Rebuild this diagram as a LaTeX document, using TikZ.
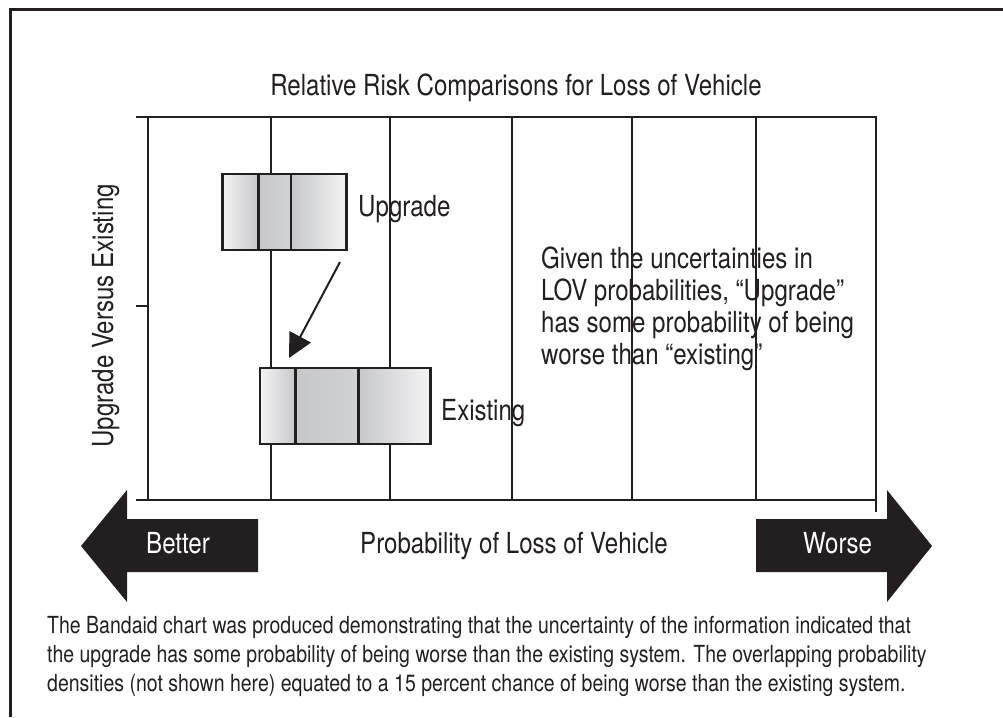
\documentclass[tikz,border=0pt]{standalone}
\usepackage{fontspec}
\setmainfont{TeX Gyre Heros}[FakeStretch=0.83]
\usepackage{tikz}
\usetikzlibrary{arrows.meta}
\definecolor{inkblack}{HTML}{231F20}
\definecolor{bandlight}{HTML}{F4F4F5}
\definecolor{bandmid}{HTML}{C6C7C9}
\definecolor{banddark}{HTML}{A0A2A4}
\tikzset{
  >=Triangle,
  frame line/.style={
    draw=inkblack,
    line width=3pt
  },
  axis line/.style={
    draw=inkblack,
    line width=2.5pt
  },
  grid line/.style={
    draw=inkblack,
    line width=1.3pt
  },
  band/.style={
    rectangle,
    draw=inkblack,
    line width=2.5pt,
    minimum height=76pt,
    inner sep=0pt
  },
  band rise/.style={band,left color=bandlight,right color=bandmid},
  band core/.style={band,left color=bandmid,middle color=banddark,right color=bandmid!80},
  band fall/.style={band,left color=bandmid,right color=bandlight},
  label text/.style={
    font=\fontsize{29}{32}\selectfont,
    text=inkblack,
    inner sep=0pt
  },
  note text/.style={
    font=\fontsize{23.5}{29}\selectfont,
    text=inkblack,
    align=left,
    inner sep=0pt
  },
  shift arrow/.style={
    draw=inkblack,
    line width=2pt,
    -{Triangle[length=24pt,width=24pt]}
  },
  direction arrow/.style={
    fill=inkblack
  }
}
\newcommand{\drawgridlines}[1]{%
  \foreach \gx in {#1}{
    \draw[grid line] (\gx,117) -- (\gx,500);
  }
}

\begin{document}
\begin{tikzpicture}[x=1pt,y=-1pt]
  \useasboundingbox (0,0) rectangle (1003,717);
  \draw[frame line] (10,717) -- (10,10) -- (1003,10);

  \drawgridlines{271,390,512,632,756}
  \draw[axis line] (136,117) -- (876,117) -- (876,512);
  \draw[axis line] (148,117) -- (148,500);
  \draw[axis line] (136,500) -- (876,500);
  \draw[axis line] (136,306) -- (148,306);

  \node[label text,anchor=base] (title) at (516,95)
    {Relative Risk Comparisons for Loss of Vehicle};
  \node[label text,anchor=base,rotate=90] (ylabel) at (113,316)
    {Upgrade Versus Existing};

  % upgrade band
  \node[band rise,minimum width=35.6pt] (U-1) at (240.5,212) {};
  \node[band core,minimum width=32.7pt] (U-2) at (274.6,212) {};
  \node[band fall,minimum width=55.7pt] (U-3) at (318.8,212) {};
  \node[label text,anchor=base west] (upgrade) at (358,216) {Upgrade};

  % existing band
  \node[band rise,minimum width=35.7pt] (E-1) at (277.8,406) {};
  \node[band core,minimum width=62.6pt] (E-2) at (327.0,406) {};
  \node[band fall,minimum width=72.4pt] (E-3) at (394.5,406) {};
  \node[label text,anchor=base west] (existing) at (441,420) {Existing};

  \coordinate (shift start) at (340,262);
  \coordinate (shift end) at (289,358);
  \draw[shift arrow] (shift start) -- (shift end);

  \node[label text,anchor=north west,align=left] (note) at (541,247)
    {Given the uncertainties in\\LOV probabilities, “Upgrade”\\has some probability of being\\worse than “existing”};

  % direction arrows
  \fill[direction arrow] (258,519) -- (127,519) -- (127,490) -- (81,546)
    -- (127,602) -- (127,572) -- (258,572) -- cycle;
  \fill[direction arrow] (756,519) -- (887,519) -- (887,490) -- (932,546)
    -- (887,602) -- (887,572) -- (756,572) -- cycle;
  \node[label text,text=white,anchor=base west] (better) at (146,553) {Better};
  \node[label text,text=white,anchor=base west] (worse) at (803,553) {Worse};
  \node[label text,anchor=base] (xlabel) at (514,553)
    {Probability of Loss of Vehicle};

  \node[note text,anchor=north west] (caption) at (47,616)
    {The Bandaid chart was produced demonstrating that the uncertainty of the information indicated that\\
     the upgrade has some probability of being worse than the existing system. The overlapping probability\\
     densities (not shown here) equated to a 15 percent chance of being worse than the existing system.};
\end{tikzpicture}
\end{document}
